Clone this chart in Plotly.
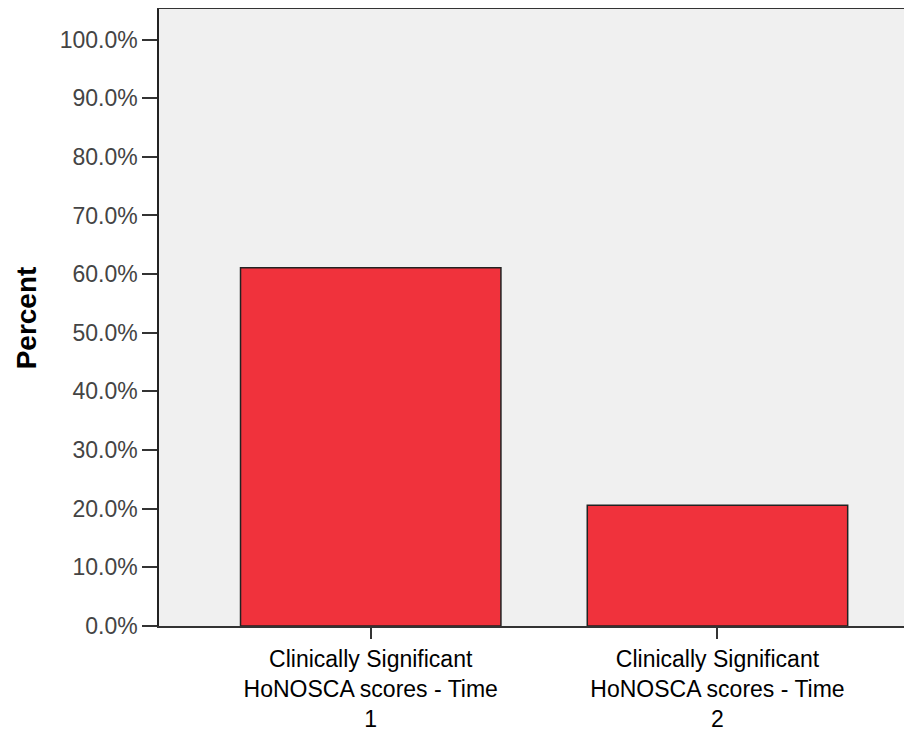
import plotly.graph_objects as go

categories = [
    "Clinically Significant<br>HoNOSCA scores - Time<br>1",
    "Clinically Significant<br>HoNOSCA scores - Time<br>2",
]
percent_values = [61.1, 20.6]
y_tick_values = [0, 10, 20, 30, 40, 50, 60, 70, 80, 90, 100]
y_tick_labels = [f"{v:.1f}%" for v in y_tick_values]

fig = go.Figure()
fig.add_trace(go.Bar(
    x=[0, 1],
    y=percent_values,
    width=0.751,
    marker=dict(color="#F0323C", line=dict(color="#222222", width=1.5)),
    showlegend=False,
))

fig.update_layout(
    width=904, height=724,
    margin=dict(l=151, r=0, t=1, b=106),
    paper_bgcolor="white",
    plot_bgcolor="#F0F0F0",
    font=dict(family="Liberation Sans, Arial, sans-serif", color="#000000"),
    xaxis=dict(
        automargin=False,
        range=[-0.6106, 1.561],
        tickmode="array",
        tickvals=[0, 1],
        ticktext=categories,
        ticks="outside", ticklen=11, tickwidth=1.5, tickcolor="#333333",
        tickfont=dict(size=23, color="#000000"),
        ticklabelstandoff=1,
        showline=True, linecolor="#333333", linewidth=1.5, mirror=True,
        showgrid=False, zeroline=False,
    ),
    yaxis=dict(
        automargin=False,
        range=[0, 105.2],
        tickmode="array",
        tickvals=y_tick_values,
        ticktext=y_tick_labels,
        ticks="outside", ticklen=15, tickwidth=1.5, tickcolor="#333333",
        tickfont=dict(size=23, color="#444444"),
        showline=True, linecolor="#222222", linewidth=1.5,
        showgrid=False, zeroline=False,
    ),
    annotations=[dict(
        text="<b>Percent</b>", textangle=-90,
        xref="paper", yref="paper", x=-0.1755, y=0.5,
        xanchor="center", yanchor="middle", showarrow=False,
        font=dict(size=28, color="#000000"),
    )],
)

fig.write_html("out.html")
